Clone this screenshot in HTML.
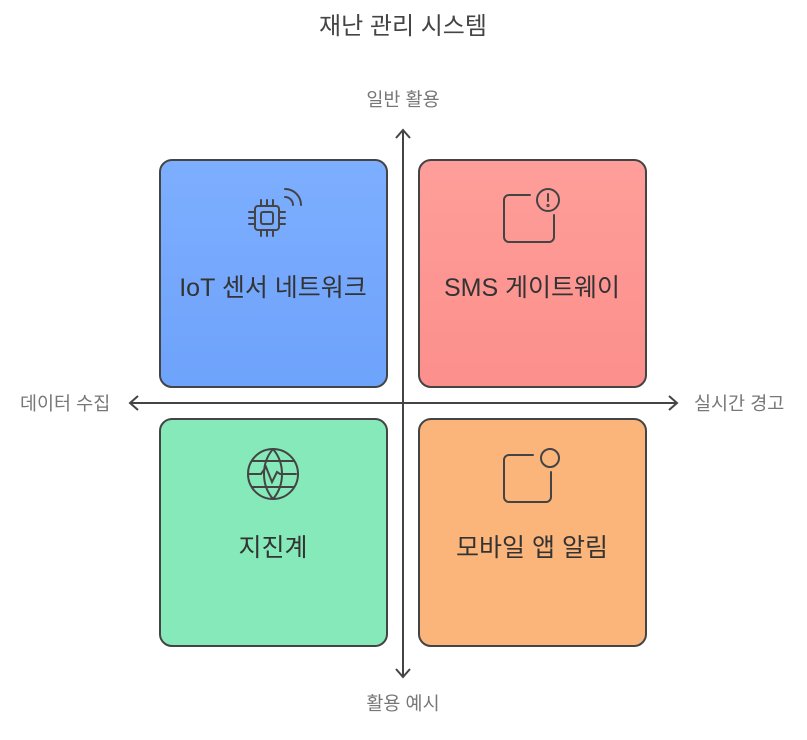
<!DOCTYPE html>
<html><head><meta charset="utf-8"><style>
body{margin:0;background:#fff;width:807px;height:735px;overflow:hidden;font-family:"Liberation Sans","Noto Sans CJK KR",sans-serif;}
svg text{font-family:"Liberation Sans","Noto Sans CJK KR",sans-serif;}
</style></head><body>
<svg width="807" height="735" viewBox="0 0 807 735">
<defs>
<linearGradient id="b" x1="0" y1="0" x2="0" y2="1"><stop offset="0" stop-color="#7daeff"/><stop offset="1" stop-color="#6ea3fb"/></linearGradient>
<linearGradient id="r" x1="0" y1="0" x2="0" y2="1"><stop offset="0" stop-color="#fe9e9a"/><stop offset="1" stop-color="#fc8f8b"/></linearGradient>
</defs>
<text x="403" y="34" font-size="24" fill="#444" text-anchor="middle">재난 관리 시스템</text>
<g fill="none" stroke="#444" stroke-width="2">
<rect x="160" y="160" width="227" height="227" rx="12" fill="url(#b)"/>
<rect x="419" y="160" width="227" height="227" rx="12" fill="url(#r)"/>
<rect x="160" y="419" width="227" height="227" rx="12" fill="#85e9b9"/>
<rect x="419" y="419" width="227" height="227" rx="12" fill="#fbb57a"/>
<line x1="403" y1="130" x2="403" y2="677"/>
<line x1="130" y1="403" x2="677" y2="403"/>
<polyline points="396,138 403,130 410,138"/>
<polyline points="396,669 403,677 410,669"/>
<polyline points="138,396 130,403 138,410"/>
<polyline points="669,396 677,403 669,410"/>
</g>
<g fill="none" stroke="#444" stroke-width="2" stroke-linecap="round">
<rect x="255" y="206" width="24" height="24" rx="3"/>
<rect x="261" y="212" width="12" height="12" rx="2"/>
<path d="M261 206v-6M267 206v-6M273 206v-6M261 230v6M267 230v6M273 230v6M255 212h-6M255 218h-6M255 224h-6M279 212h6M279 218h6M279 224h6"/>
<path d="M285 197a8 8 0 0 1 8 8M285 189a16 16 0 0 1 16 16"/>
<path d="M530 195h-21a5 5 0 0 0-5 5v37a5 5 0 0 0 5 5h40a5 5 0 0 0 5-5v-22"/>
<circle cx="548" cy="200" r="11"/>
<path d="M548 194v7"/><circle cx="548" cy="205.5" r="0.6"/>
<circle cx="273" cy="474" r="25"/>
<path d="M273 449c-12 14-12 36 0 50M273 449c12 14 12 36 0 50M252 461h42M252 487h42M249 474h12l5-7 6 15 5-10 3 2h16"/>
<path d="M533 455h-24a5 5 0 0 0-5 5v37a5 5 0 0 0 5 5h37a5 5 0 0 0 5-5v-25"/>
<circle cx="550" cy="458" r="9"/>
</g>
<g font-size="25" fill="#333" text-anchor="middle">
<text x="273" y="296">IoT 센서 네트워크</text>
<text x="532" y="296">SMS 게이트웨이</text>
<text x="273" y="556">지진계</text>
<text x="532" y="556">모바일 앱 알림</text>
</g>
<g font-size="18.5" fill="#777">
<text x="403" y="106" text-anchor="middle">일반 활용</text>
<text x="403" y="710" text-anchor="middle">활용 예시</text>
<text x="20" y="410">데이터 수집</text>
<text x="694" y="410">실시간 경고</text>
</g>
</svg>
</body></html>
